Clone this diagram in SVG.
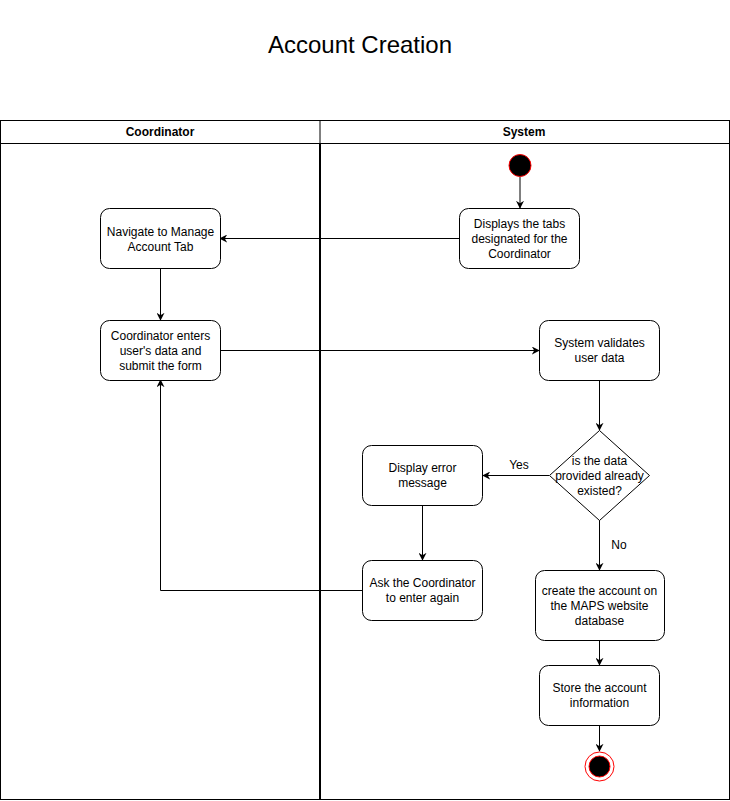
<svg xmlns="http://www.w3.org/2000/svg" width="730" height="801" viewBox="0 0 730 801">
<defs>
<marker id="arr" viewBox="0 0 10 10" refX="9" refY="5" markerWidth="8" markerHeight="8" markerUnits="userSpaceOnUse" orient="auto">
<path d="M0,0 L10,5 L0,10 L3,5 Z" fill="#000"/>
</marker>
</defs>
<style>
text{font-family:"Liberation Sans",Arial,sans-serif;font-size:12px;fill:#000;text-anchor:middle}
.title{font-size:24px}
.hdr{font-weight:bold}
.box{fill:#fff;stroke:#000;stroke-width:1}
.edge{fill:none;stroke:#000;stroke-width:1;marker-end:url(#arr)}
</style>
<rect x="0" y="0" width="730" height="801" fill="#fff"/>
<text class="title" x="360" y="53">Account Creation</text>
<g id="lanes">
<rect x="0.5" y="120.5" width="729" height="679" fill="none" stroke="#000"/>
<line x1="0.5" y1="143.5" x2="729.5" y2="143.5" stroke="#000"/>
<line x1="320" y1="120" x2="320" y2="143" stroke="#000"/>
<line x1="320" y1="143" x2="320" y2="800" stroke="#000" stroke-width="2"/>
<text class="hdr" x="160" y="136">Coordinator</text>
<text class="hdr" x="524" y="136">System</text>
</g>
<g id="connectors">
<path class="edge" d="M520,177 L520,208"/>
<path class="edge" d="M459,238.5 L220,238.5"/>
<path class="edge" d="M160.5,268 L160.5,320"/>
<path class="edge" d="M220,350.5 L539,350.5"/>
<path class="edge" d="M599.5,380 L599.5,430"/>
<path class="edge" d="M549,475.5 L483,475.5"/>
<path class="edge" d="M422.5,505 L422.5,560"/>
<path class="edge" d="M362,590.5 L160.5,590.5 L160.5,380"/>
<path class="edge" d="M599.5,520 L599.5,570"/>
<path class="edge" d="M599.5,640 L599.5,665"/>
<path class="edge" d="M599.5,725 L599.5,751"/>
<text x="519" y="469">Yes</text>
<text x="619" y="549">No</text>
</g>
<g id="start"><circle cx="520" cy="165.5" r="11" fill="#000" stroke="#f00" stroke-width="1"/></g>
<g id="displayTabs"><rect class="box" x="459.5" y="208.5" width="120" height="60" rx="9"/>
<text x="519.5" y="228">Displays the tabs</text><text x="519.5" y="243">designated for the</text><text x="519.5" y="258">Coordinator</text></g>
<g id="navigate"><rect class="box" x="100.5" y="208.5" width="120" height="60" rx="9"/>
<text x="160.5" y="236">Navigate to Manage</text><text x="160.5" y="251">Account Tab</text></g>
<g id="enterData"><rect class="box" x="100.5" y="320.5" width="120" height="60" rx="9"/>
<text x="160.5" y="340">Coordinator enters</text><text x="160.5" y="355">user's data and</text><text x="160.5" y="370">submit the form</text></g>
<g id="validate"><rect class="box" x="539.5" y="320.5" width="120" height="60" rx="9"/>
<text x="599.5" y="347">System validates</text><text x="599.5" y="362">user data</text></g>
<g id="decision"><path class="box" d="M599.5,430.5 L649.5,475.5 L599.5,520.5 L549.5,475.5 Z"/>
<text x="599.5" y="465">is the data</text><text x="599.5" y="480">provided already</text><text x="599.5" y="495">existed?</text></g>
<g id="error"><rect class="box" x="362.5" y="445.5" width="120" height="60" rx="9"/>
<text x="422.5" y="472">Display error</text><text x="422.5" y="487">message</text></g>
<g id="askAgain"><rect class="box" x="362.5" y="560.5" width="120" height="60" rx="9"/>
<text x="422.5" y="587">Ask the Coordinator</text><text x="422.5" y="602">to enter again</text></g>
<g id="create"><rect class="box" x="535.5" y="570.5" width="129" height="70" rx="9"/>
<text x="599.5" y="595">create the account on</text><text x="599.5" y="610">the MAPS website</text><text x="599.5" y="625">database</text></g>
<g id="store"><rect class="box" x="539.5" y="665.5" width="120" height="60" rx="9"/>
<text x="599.5" y="692">Store the account</text><text x="599.5" y="707">information</text></g>
<g id="end"><circle cx="599.5" cy="766.5" r="14.5" fill="#fff" stroke="#f00" stroke-width="1"/><circle cx="599.5" cy="766.5" r="10.5" fill="#000" stroke="#f00" stroke-width="1"/></g>
</svg>
